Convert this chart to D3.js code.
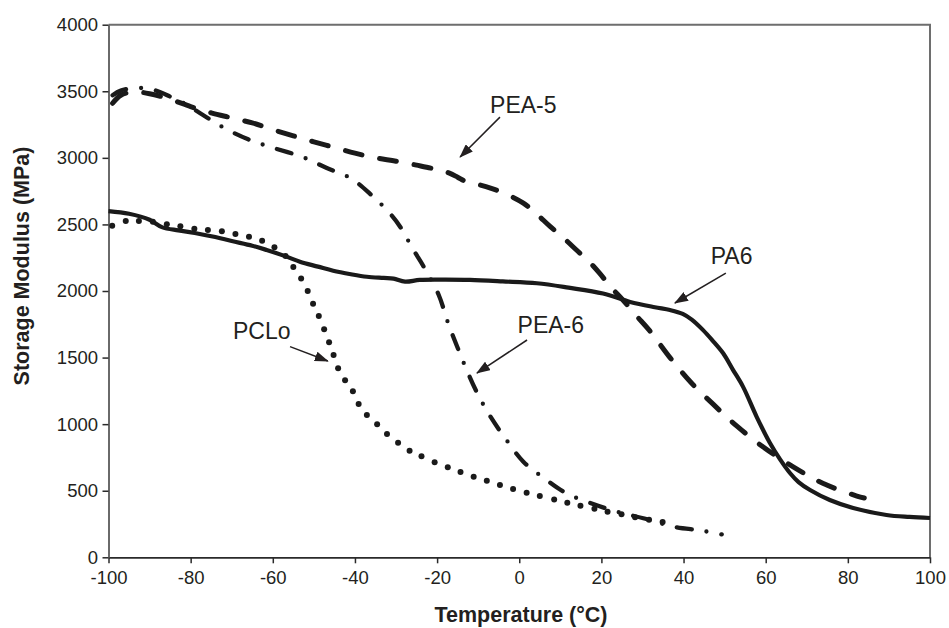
<!DOCTYPE html>
<html>
<head>
<meta charset="utf-8">
<script src="https://cdn.jsdelivr.net/npm/d3@7"></script>
<style>
  body { margin: 0; background: #fff; }
  text { font-family: "Liberation Sans", Arial, sans-serif; fill: #231f20; }
</style>
</head>
<body>
<script>
// Tick values
const xTicks = [-100, -80, -60, -40, -20, 0, 20, 40, 60, 80, 100];
const yTicks = [0, 500, 1000, 1500, 2000, 2500, 3000, 3500, 4000];

// PA6 (solid)
const pa6T = [-100, -95, -90, -87, -83, -79, -74, -70, -65, -61.5, -57, -53.4, -49, -45.3, -41, -37.1, -33, -30.6, -27.8, -24.2, -18, -12, -4, 4.3, 12, 20.4, 27, 33, 36.7, 39.8, 42, 44.7, 47, 49.6, 52, 54.5, 57.8, 61, 63.5, 65.9, 68, 70.8, 75.6, 81.3, 89.4, 95, 100];
const pa6E = [2600, 2580, 2535, 2480, 2455, 2436, 2405, 2375, 2340, 2308, 2262, 2220, 2183, 2152, 2126, 2107, 2098, 2093, 2070, 2083, 2085, 2083, 2072, 2058, 2025, 1981, 1918, 1878, 1857, 1828, 1785, 1708, 1630, 1534, 1410, 1280, 1055, 860, 735, 633, 565, 505, 430, 370, 318, 303, 295];

// PEA-5 (dashed)
const pea5T = [-99, -97, -94, -90, -85, -80, -75, -70, -65, -60, -55, -50, -45, -40, -35, -30, -25, -20, -17, -15, -13, -10, -7, -3, 1, 4, 7.5, 11, 14, 17, 19.6, 22, 25.3, 28.5, 31.8, 36.7, 41.6, 47.2, 53, 59.4, 66.7, 73.9, 82.2, 84];
const pea5E = [3410, 3470, 3495, 3482, 3440, 3385, 3338, 3300, 3262, 3212, 3165, 3120, 3078, 3035, 3000, 2975, 2945, 2912, 2885, 2855, 2822, 2800, 2773, 2725, 2660, 2585, 2485, 2392, 2306, 2220, 2132, 2040, 1930, 1815, 1700, 1500, 1320, 1150, 985, 828, 679, 556, 460, 445];

// PEA-6 (dash-dot)
const pea6T = [-99, -97, -93, -89, -85, -81, -77, -72, -66, -60, -53, -47, -41, -36, -31.5, -29, -26, -22.7, -19.6, -17.3, -15.2, -12.8, -10, -7, -3, 1, 6.3, 11.5, 18, 23.7, 30.2, 37.5, 44.4, 49.3];
const pea6E = [3470, 3505, 3525, 3510, 3460, 3400, 3322, 3227, 3139, 3076, 3009, 2926, 2846, 2721, 2583, 2483, 2321, 2153, 1970, 1757, 1589, 1407, 1219, 1056, 876, 718, 588, 480, 400, 343, 293, 230, 200, 172];

// PCLo (dotted) - individual dots
const pcloT = [-99.1, -95.8, -92.6, -89.2, -85.8, -82.5, -79.1, -75.8, -72.4, -69.1, -65.8, -62.6, -59.6, -56.9, -55, -53.1, -51.5, -50.2, -48.8, -47.5, -46.3, -45.2, -44.1, -42.4, -40.5, -39.1, -37.1, -34.6, -32.2, -29.5, -26.7, -23.8, -20.6, -17.4, -14.3, -11.1, -7.9, -4.7, -1.5, 1.8, 5, 8.5, 11.7, 14.9, 18.3, 21.5, 24.9, 28.2, 31.6, 34.9];
const pcloE = [2490, 2526, 2526, 2521, 2501, 2486, 2468, 2458, 2448, 2428, 2408, 2378, 2328, 2263, 2180, 2093, 2000, 1905, 1812, 1712, 1615, 1519, 1419, 1329, 1247, 1151, 1069, 999, 926, 861, 801, 758, 713, 676, 641, 605, 575, 543, 513, 485, 460, 435, 410, 388, 365, 343, 323, 300, 282, 265];

// Curve labels (data coordinates)
const labelNames = ["PEA-5", "PA6", "PEA-6", "PCLo"];
const labelPos = [[-7.1, 3335], [46.6, 2200], [-0.4, 1687], [-69.7, 1640]];
const arrowFrom = [[-4.7, 3306], [50.3, 2135], [1.9, 1632], [-55.8, 1582]];
const arrowTo = [[-14.4, 3006], [37.9, 1910], [-10.3, 1384], [-46.6, 1474]];

const W = 949, H = 628;
const margin = { top: 24.7, right: 19, bottom: 70.7, left: 108.5 };
const width = W - margin.left - margin.right;
const height = H - margin.top - margin.bottom;

const svg = d3.select("body").append("svg")
  .attr("width", W).attr("height", H);

const defs = svg.append("defs");
defs.append("marker")
  .attr("id", "arrow")
  .attr("markerUnits", "userSpaceOnUse")
  .attr("viewBox", "0 0 14 10")
  .attr("refX", 13).attr("refY", 5)
  .attr("markerWidth", 14).attr("markerHeight", 10)
  .attr("orient", "auto")
  .append("path")
  .attr("d", "M0,0 L14,5 L0,10 Z")
  .attr("fill", "#231f20");

const g = svg.append("g")
  .attr("transform", `translate(${margin.left},${margin.top})`);

const x = d3.scaleLinear().domain([-100, 100]).range([0, width]);
const y = d3.scaleLinear().domain([0, 4000]).range([height, 0]);

// Plot frame (top and right border)
g.append("path")
  .attr("d", `M0,0 H${width} V${height}`)
  .attr("fill", "none")
  .attr("stroke", "#6e6e6e")
  .attr("stroke-width", 2);

// Axes
const fmt = d => String(d);
const xAxis = g.append("g")
  .attr("transform", `translate(0,${height})`)
  .call(d3.axisBottom(x).tickValues(xTicks).tickFormat(fmt).tickSize(6).tickSizeOuter(0).tickPadding(7.5));
xAxis.select(".domain").attr("stroke", "#2a2a2a").attr("stroke-width", 1.8);
xAxis.selectAll(".tick line").attr("stroke", "#2a2a2a").attr("stroke-width", 1.5);
xAxis.selectAll("text").style("font-size", "18.5px").style("font-family", "Liberation Sans, Arial, sans-serif").attr("fill", "#231f20");

const yAxis = g.append("g")
  .call(d3.axisLeft(y).tickValues(yTicks).tickFormat(fmt).tickSize(6).tickSizeOuter(0).tickPadding(4.5));
yAxis.select(".domain").attr("stroke", "#5a5a5a").attr("stroke-width", 1.8);
yAxis.selectAll(".tick line").attr("stroke", "#2a2a2a").attr("stroke-width", 1.5);
yAxis.selectAll("text").style("font-size", "18.5px").style("font-family", "Liberation Sans, Arial, sans-serif").attr("fill", "#231f20");

// Axis titles
svg.append("text")
  .attr("x", 521).attr("y", 622)
  .attr("text-anchor", "middle")
  .style("font-size", "21.5px").style("font-weight", "bold")
  .text("Temperature (°C)");

svg.append("text")
  .attr("transform", "translate(28.5,266) rotate(-90)")
  .attr("text-anchor", "middle")
  .style("font-size", "21.5px").style("font-weight", "bold")
  .text("Storage Modulus (MPa)");

const line = d3.line()
  .x(d => x(d[0])).y(d => y(d[1]))
  .curve(d3.curveCatmullRom.alpha(0.5));

const zip = (a, b) => a.map((v, i) => [v, b[i]]);

// PA6 solid
g.append("path")
  .datum(zip(pa6T, pa6E))
  .attr("d", line)
  .attr("fill", "none")
  .attr("stroke", "#1a1a1a")
  .attr("stroke-width", 4.2);

// PEA-5 dashed
g.append("path")
  .datum(zip(pea5T, pea5E))
  .attr("d", line)
  .attr("fill", "none")
  .attr("stroke", "#1a1a1a")
  .attr("stroke-width", 5)
  .attr("stroke-linecap", "round")
  .attr("stroke-dasharray", "17 18");

// PEA-6 dash-dot
g.append("path")
  .datum(zip(pea6T, pea6E))
  .attr("d", line)
  .attr("fill", "none")
  .attr("stroke", "#1a1a1a")
  .attr("stroke-width", 4.3)
  .attr("stroke-linecap", "round")
  .attr("stroke-dasharray", "15 15 0 15");

// PCLo dots
g.selectAll(".pclo")
  .data(zip(pcloT, pcloE))
  .enter().append("circle")
  .attr("class", "pclo")
  .attr("cx", d => x(d[0]))
  .attr("cy", d => y(d[1]))
  .attr("r", 3)
  .attr("fill", "#1a1a1a");

// Labels and arrows
labelNames.forEach((name, i) => {
  g.append("line")
    .attr("x1", x(arrowFrom[i][0])).attr("y1", y(arrowFrom[i][1]))
    .attr("x2", x(arrowTo[i][0])).attr("y2", y(arrowTo[i][1]))
    .attr("stroke", "#231f20")
    .attr("stroke-width", 1.5)
    .attr("marker-end", "url(#arrow)");
  g.append("text")
    .attr("x", x(labelPos[i][0])).attr("y", y(labelPos[i][1]))
    .style("font-size", "23px")
    .text(name);
});
</script>
</body>
</html>
